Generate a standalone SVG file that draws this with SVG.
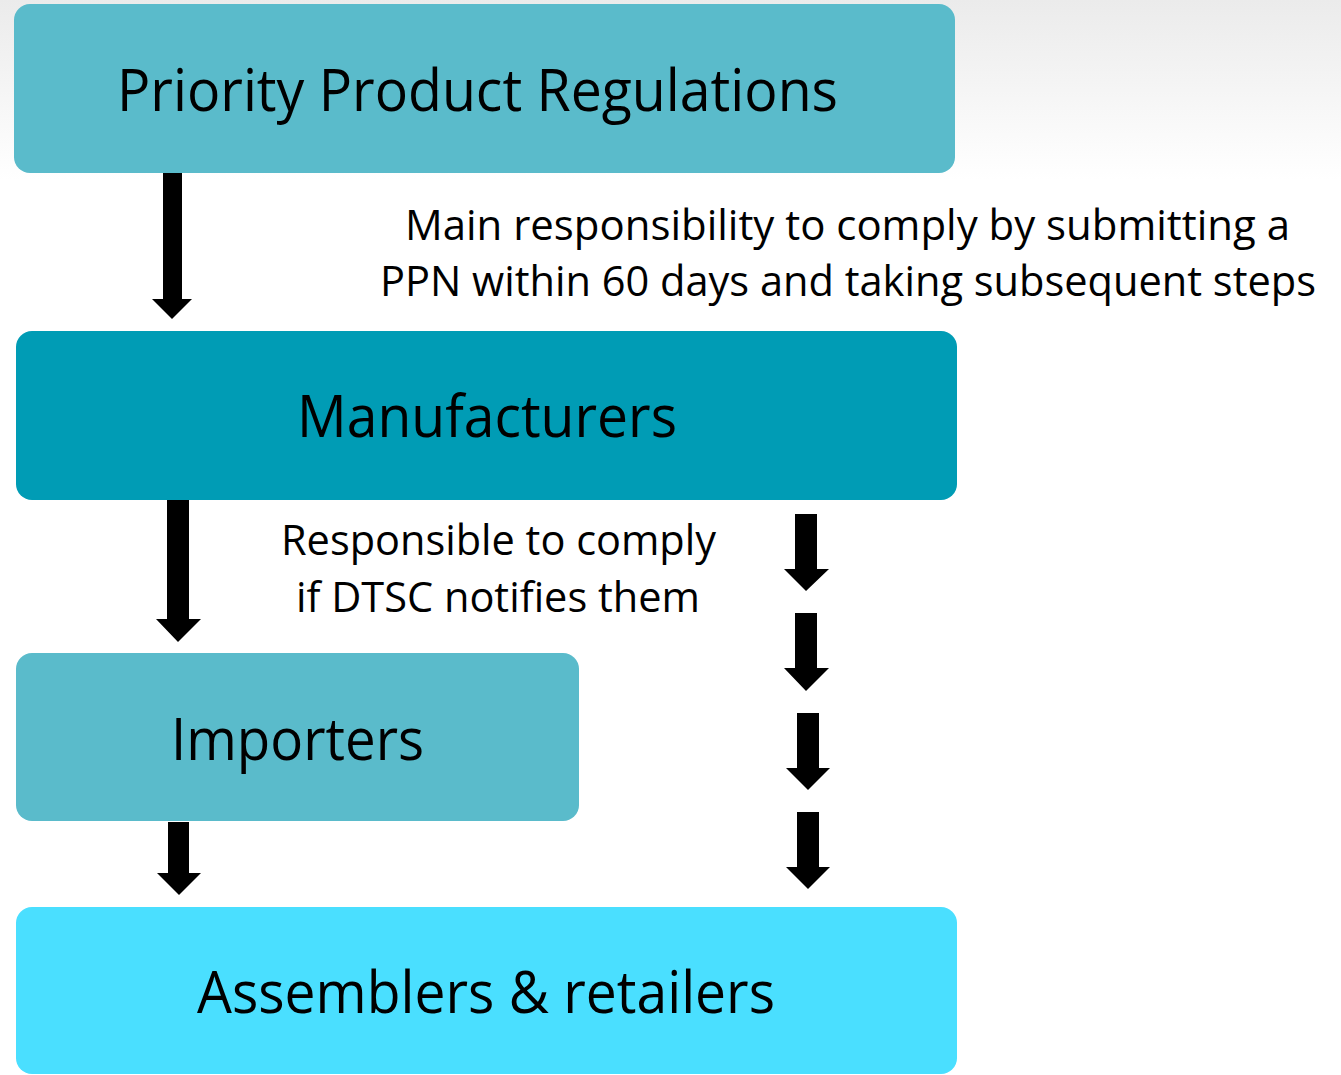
<svg xmlns="http://www.w3.org/2000/svg" width="1341" height="1075" viewBox="0 0 1341 1075">
<defs>
<linearGradient id="bg" x1="0" y1="0" x2="0" y2="1">
<stop offset="0" stop-color="#ebebeb"/>
<stop offset="1" stop-color="#ffffff"/>
</linearGradient>
<style>
.t{font-family:"Open Sans","DejaVu Sans",sans-serif;fill:#000;}
.big{font-size:58px;}
.lbl{font-size:42px;}
.arr{fill:#000;}
</style>
</defs>
<rect x="0" y="0" width="1341" height="1075" fill="#fff"/>
<rect x="0" y="0" width="1341" height="180" fill="url(#bg)"/>
<g id="node-ppr">
<rect x="14" y="4" width="941" height="169" rx="16" fill="#5abbcb"/>
<text class="t big" x="117" y="111" textLength="721" lengthAdjust="spacingAndGlyphs">Priority Product Regulations</text>
</g>
<g id="node-manufacturers">
<rect x="16" y="331" width="941" height="169" rx="16" fill="#009cb5"/>
<text class="t big" x="297" y="437" textLength="380" lengthAdjust="spacingAndGlyphs">Manufacturers</text>
</g>
<g id="node-importers">
<rect x="16" y="653" width="563" height="168" rx="16" fill="#5abbcb"/>
<text class="t big" x="171" y="760" textLength="253" lengthAdjust="spacingAndGlyphs">Importers</text>
</g>
<g id="node-assemblers">
<rect x="16" y="907" width="941" height="167" rx="16" fill="#4adfff"/>
<text class="t big" x="197" y="1013" textLength="578" lengthAdjust="spacingAndGlyphs">Assemblers &amp; retailers</text>
</g>
<g id="labels">
<text class="t lbl" x="405" y="240" textLength="885" lengthAdjust="spacingAndGlyphs">Main responsibility to comply by submitting a</text>
<text class="t lbl" x="380" y="296" textLength="936" lengthAdjust="spacingAndGlyphs">PPN within 60 days and taking subsequent steps</text>
<text class="t lbl" x="281" y="555" textLength="435" lengthAdjust="spacingAndGlyphs">Responsible to comply</text>
<text class="t lbl" x="296" y="612" textLength="404" lengthAdjust="spacingAndGlyphs">if DTSC notifies them</text>
</g>
<g id="connectors">
<polygon class="arr" points="163,173 182,173 182,299 192,299 172,319 152,299 163,299"/>
<polygon class="arr" points="167,500 189,500 189,619 201,619 178,642 156,619 167,619"/>
<polygon class="arr" points="168,822 189,822 189,873 201,873 179,895 157,873 168,873"/>
<polygon class="arr" points="795,514 817,514 817,569 829,569 806,591 784,569 795,569"/>
<polygon class="arr" points="795,613 817,613 817,668 829,668 806,691 784,668 795,668"/>
<polygon class="arr" points="797,713 819,713 819,768 830,768 808,790 786,768 797,768"/>
<polygon class="arr" points="797,812 819,812 819,867 830,867 808,889 786,867 797,867"/>
</g>
</svg>
